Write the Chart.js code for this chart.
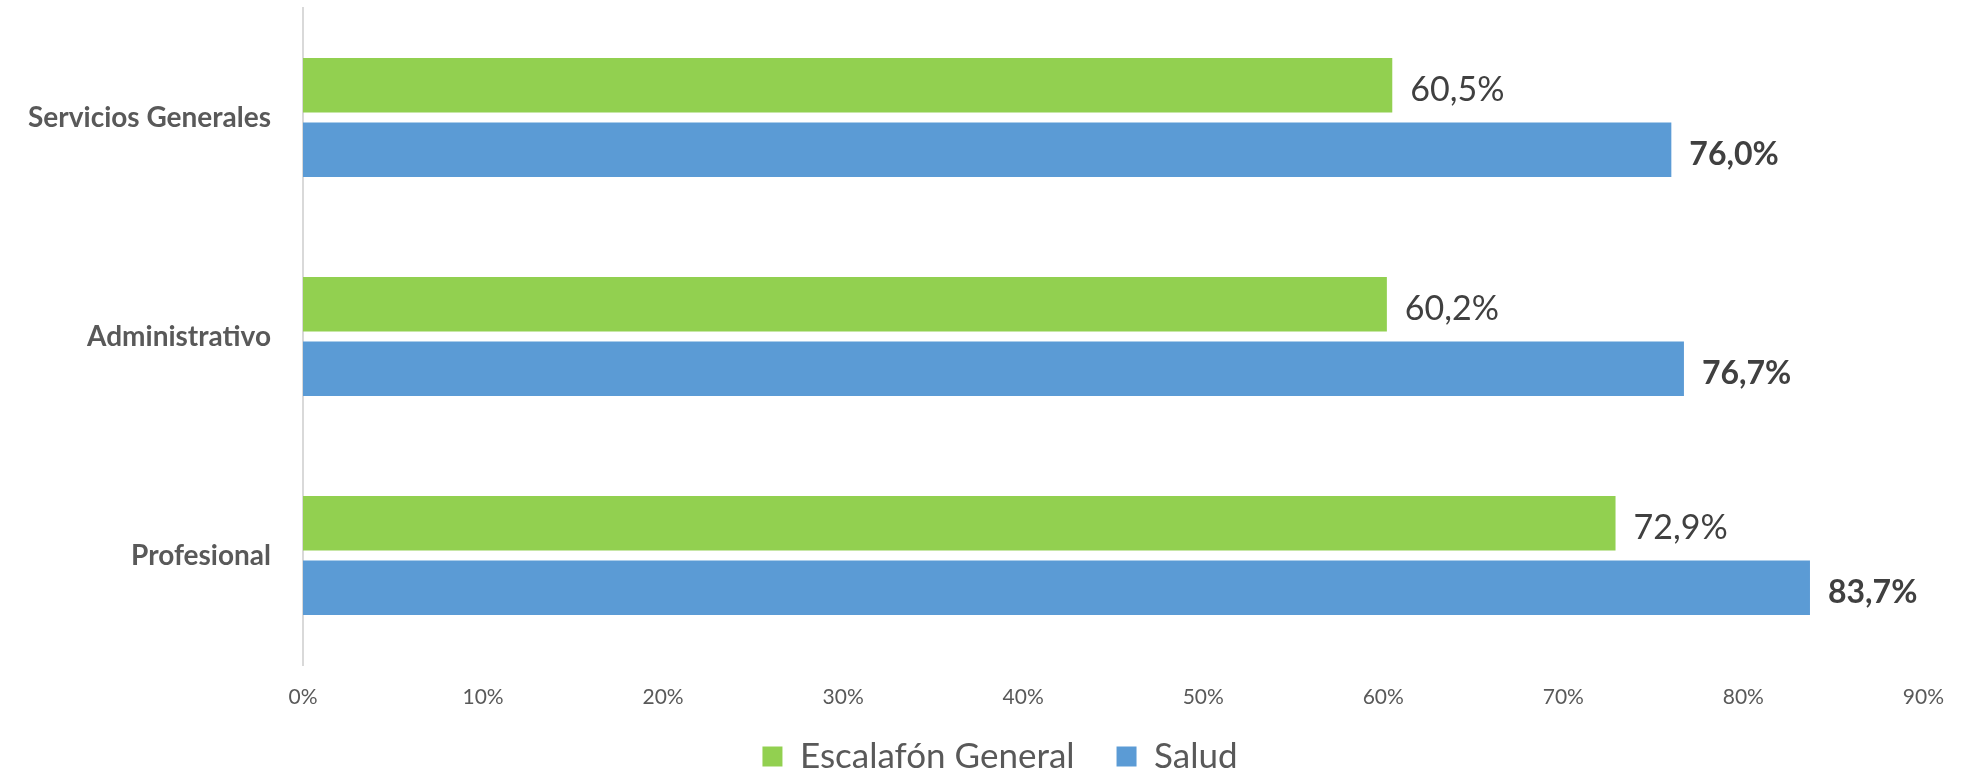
<!DOCTYPE html>
<html>
<head>
<meta charset="utf-8">
<script src="https://cdn.jsdelivr.net/npm/chart.js@4/dist/chart.umd.min.js"></script>
<style>
    html, body { margin: 0; padding: 0; background: #fff; overflow: hidden; }
    #wrap { width: 1964px; height: 772px; overflow: hidden; }
    #inner { width: 1964px; height: 812px; position: relative; }
</style>
</head>
<body>
<div id="wrap"><div id="inner"><canvas id="chart"></canvas></div></div>
<script>
const categories = ['Servicios Generales', 'Administrativo', 'Profesional'];
const escalafonValues = [60.5, 60.2, 72.9];
const saludValues = [76.0, 76.7, 83.7];
const seriesNames = ['Escalafón General', 'Salud'];
const xTicks = [0, 10, 20, 30, 40, 50, 60, 70, 80, 90];

const green = '#92D050';
const blue = '#5B9BD5';
const fontFamily = 'Lato, "Open Sans", sans-serif';

// draws the value labels at the end of each bar
const valueLabels = {
    id: 'valueLabels',
    afterDatasetsDraw(chart) {
        const ctx = chart.ctx;
        ctx.save();
        chart.data.datasets.forEach((ds, i) => {
            const meta = chart.getDatasetMeta(i);
            meta.data.forEach((bar, j) => {
                const txt = ds.data[j].toFixed(1).replace('.', ',') + '%';
                ctx.font = (i === 1 ? 'bold 32px ' : '34px ') + fontFamily;
                ctx.fillStyle = '#404040';
                ctx.textAlign = 'left';
                ctx.textBaseline = 'middle';
                ctx.fillText(txt, bar.x + 18, bar.y + 5);
            });
        });
        ctx.restore();
    }
};

// the legend in the original sits a bit right of centre and low
const legendShift = {
    id: 'legendShift',
    afterLayout(chart) {
        const lg = chart.legend;
        if (lg) {
            lg.left += 36;
            lg.right += 36;
            lg.top -= 28;
            lg.bottom -= 28;
        }
    }
};

new Chart(document.getElementById('chart'), {
    type: 'bar',
    data: {
        labels: categories,
        datasets: [
            {
                label: seriesNames[0],
                data: escalafonValues,
                backgroundColor: green,
                categoryPercentage: 0.59,
                barPercentage: 0.845
            },
            {
                label: seriesNames[1],
                data: saludValues,
                backgroundColor: blue,
                categoryPercentage: 0.59,
                barPercentage: 0.845
            }
        ]
    },
    options: {
        indexAxis: 'y',
        responsive: true,
        maintainAspectRatio: false,
        animation: false,
        layout: {
            padding: { top: 8, right: 36, left: 0, bottom: 0 }
        },
        plugins: {
            legend: {
                position: 'bottom',
                labels: {
                    boxWidth: 20,
                    boxHeight: 20,
                    padding: 42,
                    color: '#595959',
                    font: { size: 35, family: fontFamily }
                }
            },
            tooltip: { enabled: false }
        },
        scales: {
            x: {
                min: 0,
                max: 90,
                afterBuildTicks: (s) => { s.ticks = xTicks.map(v => ({ value: v })); },
                afterFit: (s) => { s.height = 60; },
                grid: { display: false, drawTicks: false },
                border: { display: false },
                ticks: {
                    padding: 20,
                    color: '#595959',
                    font: { size: 21, family: fontFamily },
                    callback: (v) => v + '%'
                }
            },
            y: {
                afterFit: (s) => {
                    s.width = 303;
                    s.paddingTop = 0;
                    s.paddingBottom = 0;
                },
                grid: { display: false, drawTicks: false },
                border: { display: true, color: '#D9D9D9', width: 2 },
                ticks: {
                    padding: 32,
                    color: '#595959',
                    font: { size: 28, weight: 'bold', family: fontFamily }
                }
            }
        }
    },
    plugins: [valueLabels, legendShift]
});
</script>
</body>
</html>
